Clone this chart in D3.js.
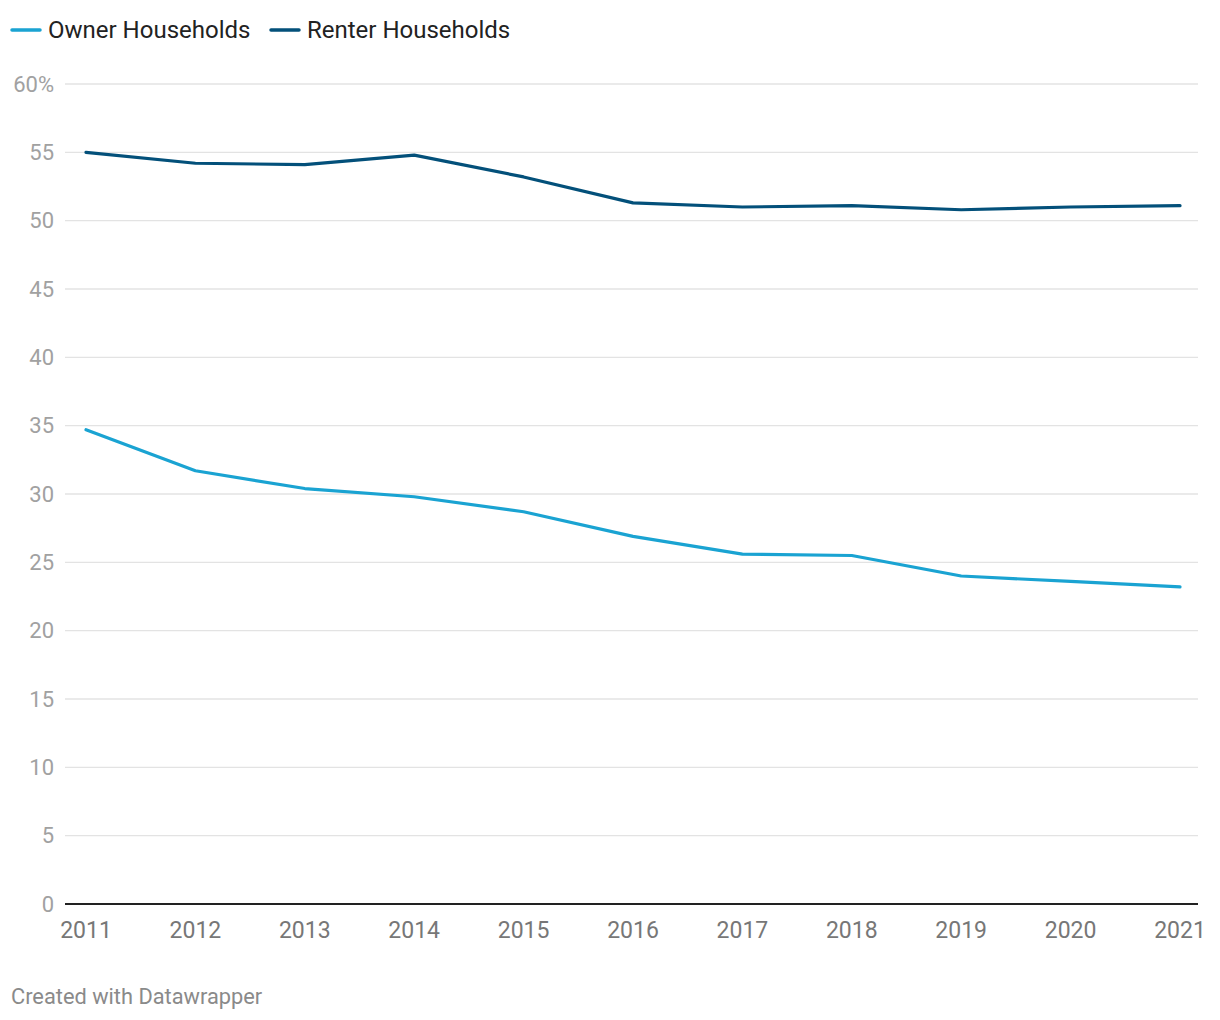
<!DOCTYPE html>
<html><head><meta charset="utf-8">
<script src="https://cdn.jsdelivr.net/npm/d3@7"></script>
<style>
html,body{margin:0;padding:0;background:#fff;}
svg{display:block;font-family:Roboto, sans-serif;}
</style></head>
<body><svg id="c" width="1220" height="1020"></svg>
<script>
const years = [2011,2012,2013,2014,2015,2016,2017,2018,2019,2020,2021];
const ownerValues = [34.7,31.7,30.4,29.8,28.7,26.9,25.6,25.5,24.0,23.6,23.2];
const renterValues = [55.0,54.2,54.1,54.8,53.2,51.3,51.0,51.1,50.8,51.0,51.1];
const yTicks = [0,5,10,15,20,25,30,35,40,45,50,55,60];
const seriesNames = ["Owner Households","Renter Households"];
const seriesColors = ["#1aa3d2","#03507a"];

const svg = d3.select("#c");
const x = d3.scaleLinear().domain([2011,2021]).range([86,1180]);
const y = d3.scaleLinear().domain([0,60]).range([904,84]);

// gridlines
svg.append("g").selectAll("line").data(yTicks.filter(d=>d>0)).join("line")
  .attr("x1",65).attr("x2",1198).attr("y1",d=>y(d)).attr("y2",d=>y(d))
  .attr("stroke","#e3e3e3").attr("stroke-width",1.3);

// y labels
svg.append("g").selectAll("text").data(yTicks).join("text")
  .attr("x",54).attr("y",d=>y(d)+7.5).attr("text-anchor","end")
  .attr("font-size",22).attr("fill","#a1a1a1")
  .text(d=>d===60?"60%":d);

// baseline
svg.append("line").attr("x1",65).attr("x2",1198).attr("y1",y(0)).attr("y2",y(0))
  .attr("stroke","#222").attr("stroke-width",2);

// x labels
svg.append("g").selectAll("text").data(years).join("text")
  .attr("x",d=>x(d)).attr("y",938).attr("text-anchor","middle")
  .attr("font-size",23).attr("fill","#777")
  .text(d=>d);

// lines
const line = d3.line().x((d,i)=>x(years[i])).y(d=>y(d));
[ownerValues, renterValues].forEach((vals,k)=>{
  svg.append("path").datum(vals).attr("d",line)
    .attr("fill","none").attr("stroke",seriesColors[k]).attr("stroke-width",3.2)
    .attr("stroke-linejoin","round").attr("stroke-linecap","round");
});

// legend
const legX = [12,271];
seriesNames.forEach((n,k)=>{
  svg.append("line").attr("x1",legX[k]).attr("x2",legX[k]+28).attr("y1",30).attr("y2",30)
    .attr("stroke",seriesColors[k]).attr("stroke-width",3.5).attr("stroke-linecap","round");
  svg.append("text").attr("x",legX[k]+36).attr("y",38).attr("font-size",24).attr("fill","#222").text(n);
});

// footer
svg.append("text").attr("x",11).attr("y",1004).attr("font-size",21.8).attr("fill","#8a8a8a").text("Created with Datawrapper");
</script>
</body></html>
